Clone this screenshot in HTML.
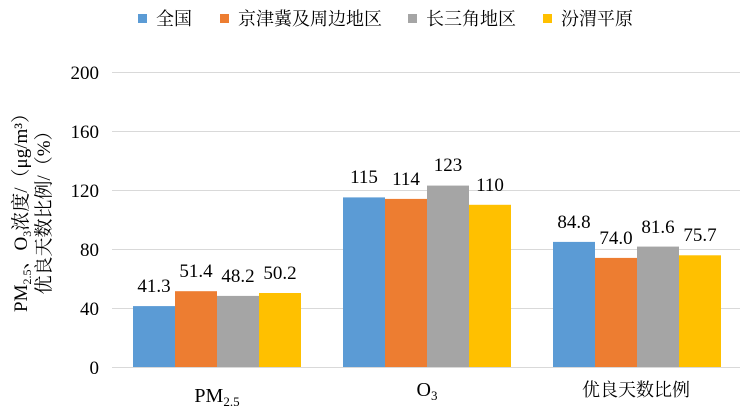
<!DOCTYPE html>
<html><head><meta charset="utf-8"><style>
html,body{margin:0;padding:0;background:#fff}
svg{display:block}
text{font-family:"Liberation Serif","Noto Serif CJK SC",serif;fill:#000}
</style></head><body>
<svg width="752" height="414" viewBox="0 0 752 414" xmlns="http://www.w3.org/2000/svg">
<g stroke="#d9d9d9" stroke-width="1">
<line x1="112" x2="740" y1="72.5" y2="72.5"/>
<line x1="112" x2="740" y1="131.5" y2="131.5"/>
<line x1="112" x2="740" y1="190.5" y2="190.5"/>
<line x1="112" x2="740" y1="249.5" y2="249.5"/>
<line x1="112" x2="740" y1="308.5" y2="308.5"/>
<line x1="112" x2="740" y1="367.5" y2="367.5"/>
</g>
<g font-size="19" text-anchor="end">
<text x="99" y="79">200</text>
<text x="99" y="138">160</text>
<text x="99" y="197">120</text>
<text x="99" y="256">80</text>
<text x="99" y="315">40</text>
<text x="99" y="374">0</text>
</g>
<g font-size="19" text-anchor="middle">
<text transform="translate(27,208) rotate(-90)">PM<tspan font-size="12" dy="4">2.5</tspan><tspan dy="-4">、O</tspan><tspan font-size="12" dy="4">3</tspan><tspan dy="-4">浓度/（μg/m³）</tspan></text>
<text transform="translate(50,208) rotate(-90)">优良天数比例/（%）</text>
</g>
<g>
<rect x="133" y="306.1" width="42" height="60.9" fill="#5b9bd5"/>
<rect x="175" y="291.2" width="42" height="75.8" fill="#ed7d31"/>
<rect x="217" y="295.9" width="42" height="71.1" fill="#a5a5a5"/>
<rect x="259" y="293.0" width="42" height="74.0" fill="#ffc000"/>
<rect x="343" y="197.4" width="42" height="169.6" fill="#5b9bd5"/>
<rect x="385" y="198.9" width="42" height="168.1" fill="#ed7d31"/>
<rect x="427" y="185.6" width="42" height="181.4" fill="#a5a5a5"/>
<rect x="469" y="204.8" width="42" height="162.2" fill="#ffc000"/>
<rect x="553" y="241.9" width="42" height="125.1" fill="#5b9bd5"/>
<rect x="595" y="257.9" width="42" height="109.1" fill="#ed7d31"/>
<rect x="637" y="246.6" width="42" height="120.4" fill="#a5a5a5"/>
<rect x="679" y="255.3" width="42" height="111.7" fill="#ffc000"/>
</g>
<g font-size="19" text-anchor="middle">
<text x="154" y="292">41.3</text>
<text x="196" y="277">51.4</text>
<text x="238" y="282">48.2</text>
<text x="280" y="279">50.2</text>
<text x="364" y="183">115</text>
<text x="406" y="185">114</text>
<text x="448" y="171">123</text>
<text x="490" y="191">110</text>
<text x="574" y="228">84.8</text>
<text x="616" y="244">74.0</text>
<text x="658" y="233">81.6</text>
<text x="700" y="241">75.7</text>
</g>
<g font-size="20" text-anchor="middle">
<text x="217" y="402">PM<tspan font-size="13" dy="4">2.5</tspan></text>
<text x="427" y="396">O<tspan font-size="13" dy="4">3</tspan></text>
<text x="636" y="396" font-size="18">优良天数比例</text>
</g>
<g font-size="18">
<rect x="138" y="14" width="9" height="9" fill="#5b9bd5"/><text x="156" y="25">全国</text>
<rect x="220" y="14" width="9" height="9" fill="#ed7d31"/><text x="238" y="25">京津冀及周边地区</text>
<rect x="408" y="14" width="9" height="9" fill="#a5a5a5"/><text x="426" y="25">长三角地区</text>
<rect x="543" y="14" width="9" height="9" fill="#ffc000"/><text x="561" y="25">汾渭平原</text>
</g>
</svg>
</body></html>
